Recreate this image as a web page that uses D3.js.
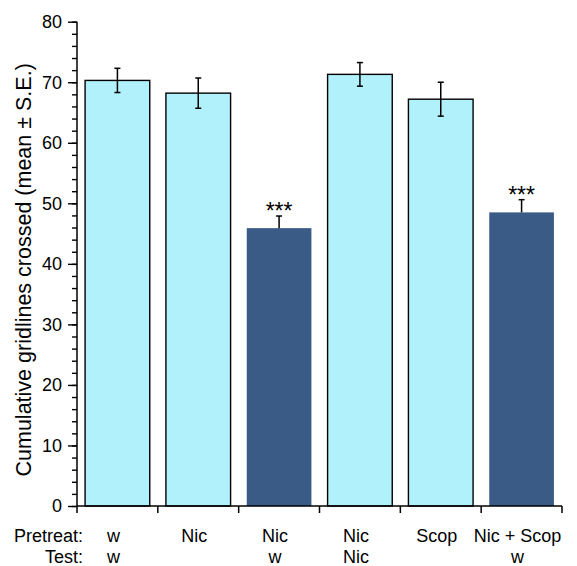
<!DOCTYPE html>
<html>
<head>
<meta charset="utf-8">
<script src="https://cdn.jsdelivr.net/npm/d3@7"></script>
<style>
body { margin:0; background:#fff; }
text { font-family: "Liberation Sans", Arial, sans-serif; fill:#000; }
</style>
</head>
<body>
<svg id="chart"></svg>
<script>
// values
var groups = ["g1","g2","g3","g4","g5","g6"];
var pretreat = ["w","Nic","Nic","Nic","Scop","Nic + Scop"];
var test = ["w","","w","Nic","","w"];
var means = [70.3, 68.2, 45.9, 71.3, 67.2, 48.5];
var errs = [2.0, 2.5, 2.0, 1.95, 2.8, 2.1];
var stars = ["","","***","","","***"];
var yMajor = [0,10,20,30,40,50,60,70,80];
var yMinor = d3.range(0,81,2);

var screen = {width:577, height:566};
var plot = {left:77, right:562, top:21.7, bottom:506};

var light = "#b0f1fc";
var dark = "#3a5b86";

var svg = d3.select("#chart")
    .attr("width", screen.width)
    .attr("height", screen.height);

var x = d3.scaleBand()
    .domain(groups)
    .range([plot.left, plot.right])
    .paddingInner(0)
    .paddingOuter(0);
var y = d3.scaleLinear()
    .domain([0,80])
    .range([plot.bottom, plot.top]);

var inset = x.bandwidth()*0.1;

// bars
svg.append("g")
    .selectAll("rect")
    .data(groups)
    .enter()
    .append("rect")
    .attr("x", function(d){ return x(d)+inset; })
    .attr("width", x.bandwidth()-2*inset)
    .attr("y", function(d,i){ return y(means[i]); })
    .attr("height", function(d,i){ return y(0)-y(means[i]); })
    .attr("fill", function(d,i){ return stars[i] ? dark : light; })
    .attr("stroke", function(d,i){ return stars[i] ? "none" : "#000"; })
    .attr("stroke-width", 1.4);

// error bars
var eb = svg.append("g")
    .attr("stroke", "#000")
    .attr("stroke-width", 1.5);
groups.forEach(function(g,i)
{
    var cx = x(g)+x.bandwidth()/2;
    var lo = stars[i] ? means[i] : means[i]-errs[i];
    var hi = means[i]+errs[i];
    eb.append("line")
        .attr("x1", cx).attr("x2", cx)
        .attr("y1", y(lo)).attr("y2", y(hi));
    eb.append("line")
        .attr("x1", cx-3).attr("x2", cx+3)
        .attr("y1", y(hi)).attr("y2", y(hi));
    if (!stars[i])
    {
        eb.append("line")
            .attr("x1", cx-3).attr("x2", cx+3)
            .attr("y1", y(lo)).attr("y2", y(lo));
    }
    else
    {
        svg.append("text")
            .attr("x", cx)
            .attr("y", y(hi)+3)
            .attr("text-anchor", "middle")
            .style("font-size", "23px")
            .text(stars[i]);
    }
});

// y axis
var yAxis = d3.axisLeft(y)
    .tickValues(yMajor)
    .tickSize(9)
    .tickPadding(6)
    .tickFormat(d3.format("d"));
var yMinorAxis = d3.axisLeft(y)
    .tickValues(yMinor)
    .tickSize(5)
    .tickFormat("");

var gMinor = svg.append("g")
    .attr("transform", "translate("+plot.left+",0)")
    .call(yMinorAxis);
gMinor.select(".domain").remove();
var gy = svg.append("g")
    .attr("transform", "translate("+plot.left+",0)")
    .call(yAxis);
gy.select(".domain").remove();
svg.selectAll(".tick line").attr("stroke", "#000").attr("stroke-width", 1.4);
gy.selectAll(".tick text")
    .style("font-size", "18px")
    .style("font-family", "Liberation Sans, Arial, sans-serif");

svg.append("line")
    .attr("x1", plot.left).attr("x2", plot.left)
    .attr("y1", plot.top).attr("y2", plot.bottom)
    .attr("stroke", "#000").attr("stroke-width", 1.5);

// x axis with ticks at band edges
svg.append("line")
    .attr("x1", plot.left).attr("x2", plot.right)
    .attr("y1", plot.bottom).attr("y2", plot.bottom)
    .attr("stroke", "#000").attr("stroke-width", 1.5);
var edges = groups.map(function(g){ return x(g); }).concat([x.range()[1]]);
svg.append("g")
    .selectAll("line")
    .data(edges)
    .enter()
    .append("line")
    .attr("x1", function(d){ return d; })
    .attr("x2", function(d){ return d; })
    .attr("y1", plot.bottom)
    .attr("y2", plot.bottom+7)
    .attr("stroke", "#000")
    .attr("stroke-width", 1.5);

// category labels
var labels = svg.append("g").style("font-size", "18px");
labels.append("text")
    .attr("x", 83).attr("y", 542)
    .attr("text-anchor", "end")
    .text("Pretreat:");
labels.append("text")
    .attr("x", 83).attr("y", 563)
    .attr("text-anchor", "end")
    .text("Test:");
labels.selectAll(".pre")
    .data(groups)
    .enter()
    .append("text")
    .classed("pre", true)
    .attr("x", function(d){ return x(d)+x.bandwidth()/2-4; })
    .attr("y", 542)
    .attr("text-anchor", "middle")
    .text(function(d,i){ return pretreat[i]; });
labels.selectAll(".test")
    .data(groups)
    .enter()
    .append("text")
    .classed("test", true)
    .attr("x", function(d){ return x(d)+x.bandwidth()/2-4; })
    .attr("y", 563)
    .attr("text-anchor", "middle")
    .text(function(d,i){ return test[i]; });

// y title
svg.append("text")
    .attr("transform", "translate(31,"+((plot.top+plot.bottom)/2+6)+") rotate(-90)")
    .attr("text-anchor", "middle")
    .style("font-size", "21.5px")
    .text("Cumulative gridlines crossed (mean \u00b1 S.E.)");
</script>
</body>
</html>
